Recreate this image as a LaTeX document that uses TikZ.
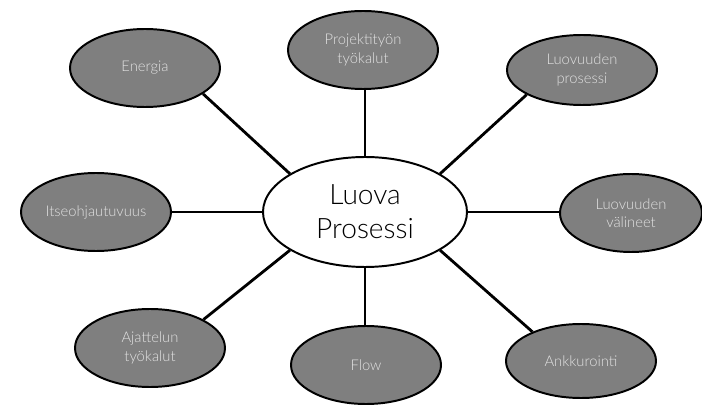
\documentclass[tikz,border=0pt]{standalone}
\usepackage{fontspec}
\setmainfont{Lato}[UprightFont=* Light]
\usepackage{xcolor}
\usetikzlibrary{shapes.geometric, backgrounds}

\definecolor{bubblegray}{HTML}{7F7F7F}
\definecolor{bubbletext}{HTML}{E2E2E2}

\begin{document}
\begin{tikzpicture}[
  bubble/.style={draw, ellipse, line width=1.4pt, fill=bubblegray, text=bubbletext, minimum width=3.75cm, minimum height=1.95cm, inner sep=1pt, align=center, font=\fontsize{10.5}{13}\selectfont},
  hub/.style={draw, ellipse, line width=1.4pt, fill=white, minimum width=5.1cm, minimum height=2.75cm, inner sep=1pt, align=center, font=\fontsize{20}{24}\selectfont},
  spoke/.style={line width=2pt, black}
]
\useasboundingbox (0,0) rectangle (17.55,10.1);

% Centre
\node[hub] (luova) at (9.125, 4.8) {Luova\\Prosessi};

% === Outer bubbles ===
\node[bubble] (energia) at (3.625, 8.4) {Energia};
\node[bubble] (projekti) at (9.075, 8.85) {Projektityön\\työkalut};
\node[bubble, minimum height=1.75cm] (prosessi) at (14.55, 8.35) {Luovuuden\\prosessi};
\node[bubble] (itse) at (2.4, 4.8) {Itseohjautuvuus};
\node[bubble, minimum width=3.55cm] (valineet) at (15.775, 4.775) {Luovuuden\\välineet};
\node[bubble] (ajattelu) at (3.75, 1.4) {Ajattelun\\työkalut};
\node[bubble] (flow) at (9.15, 0.975) {Flow};
\node[bubble, minimum height=1.85cm] (ankkuri) at (14.525, 1.075) {Ankkurointi};

% Spokes
\begin{scope}[on background layer]
\draw[spoke] (luova.153) -- (energia.336);
\draw[spoke] (luova.north) -- (luova.north |- projekti.south);
\draw[spoke] (luova.27) -- (prosessi.204);
\draw[spoke] (luova.west) -- (itse.east);
\draw[spoke] (luova.east) -- (luova.east -| valineet.west);
\draw[spoke] (luova.207) -- (ajattelu.28);
\draw[spoke] (luova.south) -- (luova.south |- flow.north);
\draw[spoke] (luova.333) -- (ankkuri.149);
\end{scope}

\end{tikzpicture}
\end{document}
